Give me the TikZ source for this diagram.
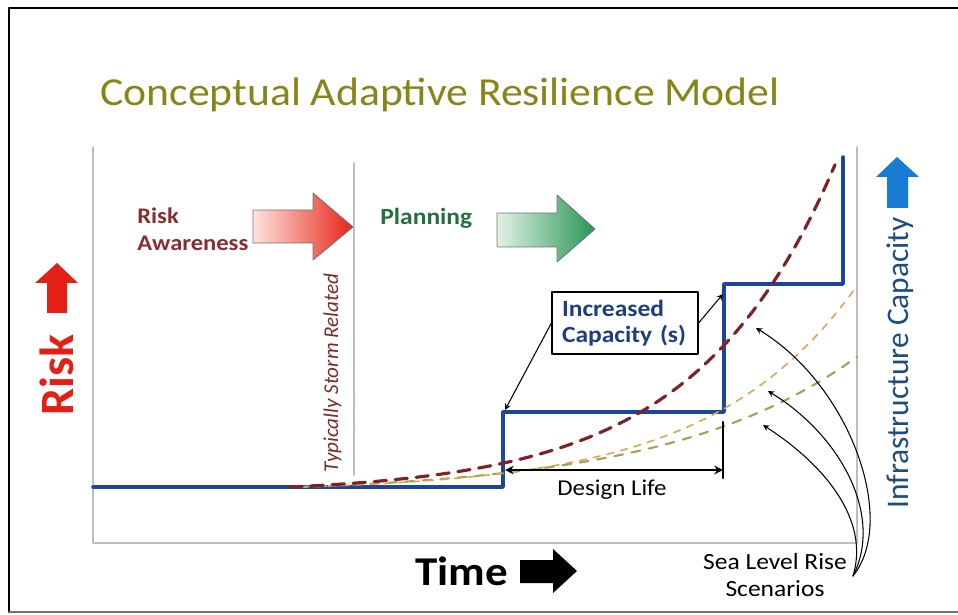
\documentclass[tikz,border=0pt]{standalone}
\usepackage{fontspec}
\setmainfont{Carlito}[FakeStretch=1.1]
\newfontfamily\narrowfont{Carlito}
\definecolor{titleolive}{RGB}{134,134,22}
\definecolor{riskred}{RGB}{226,32,22}
\definecolor{awarered}{RGB}{140,44,50}
\definecolor{stormred}{RGB}{130,40,40}
\definecolor{plangreen}{RGB}{34,112,62}
\definecolor{capblue}{RGB}{30,62,125}
\definecolor{stepblue}{RGB}{28,70,150}
\definecolor{infrablue}{RGB}{30,76,125}
\definecolor{arrowblue}{RGB}{24,124,212}
\definecolor{axisgrey}{RGB}{190,190,190}
\definecolor{curvered}{RGB}{130,32,38}
\definecolor{curveorange}{RGB}{222,164,80}
\definecolor{curvegreen}{RGB}{150,168,82}
\definecolor{redpale}{RGB}{252,228,222}
\definecolor{redfull}{RGB}{232,36,24}
\definecolor{greenpale}{RGB}{225,242,230}
\definecolor{greenfull}{RGB}{40,150,85}
\begin{document}
\begin{tikzpicture}[x=0.02cm,y=-0.02cm,line cap=round,line join=round,>=stealth,
    axisline/.style={draw=axisgrey,line width=0.8pt},
    stepline/.style={draw=stepblue,line width=2pt},
    pointer/.style={->,line width=0.6pt},
    fatarrow/.style={draw=black!55,line width=0.5pt}]
    \def\ra{6.6}  \def\rk{0.00717} % worst case
    \def\oa{4.57} \def\ok{0.00684}
    \def\ga{7.2}  \def\gk{0.0053}
    \useasboundingbox (0,0) rectangle (958,615);
    \draw[line width=1.6pt] (958,8) -- (9,8) -- (9,612);
    \draw[line width=1pt,black!55] (9,612) -- (958,612);
    \node[anchor=base west,inner sep=0,text=titleolive,font=\fontsize{22.6}{26}\selectfont] (title) at (100,106) {Conceptual Adaptive Resilience Model};
    \draw[axisline] (93,147) -- (93,543) -- (857,543) -- (857,147);
    \draw[axisline] (354,163) -- (354,475);
    \coordinate (stepA) at (503,412);
    \coordinate (stepB) at (724,284);
    \coordinate (stepC) at (843,157);
    \draw[stepline] (93,487) -- (503,487) -- (stepA) -| (stepB) -| (stepC);
    \draw[curvegreen,line width=1.2pt,dash pattern=on 5pt off 5pt,samples=80,smooth,domain=300:857] plot(\x,{487-\ga*(exp(\gk*(\x-300))-1)});
    \draw[curveorange,line width=0.9pt,dash pattern=on 4pt off 4pt,samples=80,smooth,domain=300:857] plot(\x,{487-\oa*(exp(\ok*(\x-300))-1)});
    \draw[curvered,line width=1.8pt,dash pattern=on 7pt off 5pt,samples=80,smooth,domain=290:835] plot(\x,{487-\ra*(exp(\rk*(\x-290))-1)});
    \node[anchor=north west,inner sep=0,align=left,text=awarered,font=\bfseries\fontsize{12.7}{15.4}\selectfont] (aware) at (137,207) {Risk\\Awareness};
    \shadedraw[fatarrow,left color=redpale,right color=redfull] (253,210) -- (313,210) -- (313,193) -- (353,227) -- (313,260) -- (313,243) -- (253,243) -- cycle;
    \node[anchor=base west,inner sep=0,text=plangreen,font=\bfseries\fontsize{13.2}{15}\selectfont] (plan) at (380,225) {Planning};
    \shadedraw[fatarrow,left color=greenpale,right color=greenfull] (497,213) -- (557,213) -- (557,195) -- (595,229) -- (557,262) -- (557,247) -- (497,247) -- cycle;
    \node[rotate=90,anchor=base,inner sep=0,text=stormred,font=\narrowfont\itshape\fontsize{12}{14}\selectfont] (storm) at (338,373) {Typically Storm Related};
    \node[draw,line width=0.7pt,minimum width=2.92cm,minimum height=1.24cm,inner xsep=0.2cm,text width=2.52cm,align=left,text=capblue,font=\bfseries\fontsize{13.2}{14.8}\selectfont] (capbox) at (625,323) {Increased\\Capacity (s)};
    \draw[pointer] (capbox.west) -- ([shift={(2,-2)}]stepA);
    \draw[pointer] (capbox.east) -- ([shift={(-1,10)}]stepB);
    \coordinate (dlL) at (505,470);
    \coordinate (dlR) at (723,470);
    \draw[<->,line width=1.2pt] (dlL) -- (dlR);
    \draw[line width=1.2pt] (723,422) -- (723,478);
    \node[anchor=base,inner sep=0,font=\fontsize{12.9}{15}\selectfont] (dlife) at (612,495) {Design Life};
    \node[anchor=north,inner sep=0,align=center,font=\fontsize{13.2}{15.4}\selectfont] (slr) at (775,553) {Sea Level Rise\\Scenarios};
    \coordinate (slrend) at (853,576);
    \draw[pointer] (slrend) .. controls (898,520) and (850,385) .. (756,328);
    \draw[pointer] (slrend) .. controls (884,515) and (840,435) .. (768,391);
    \draw[pointer] (slrend) .. controls (870,520) and (825,465) .. (763,425);
    \node[anchor=base west,inner sep=0,font=\bfseries\fontsize{23.3}{26}\selectfont] (time) at (415,585) {Time};
    \fill (520,560) -- (553,560) -- (553,549) -- (577,571) -- (553,593) -- (553,583) -- (520,583) -- cycle;
    \node[rotate=90,anchor=base,inner sep=0,text=riskred,font=\narrowfont\bfseries\fontsize{27.3}{30}\selectfont] (risk) at (73,375) {Risk};
    \fill[riskred] (47,313) -- (47,283) -- (35,283) -- (57,263) -- (78,283) -- (67,283) -- (67,313) -- cycle;
    \node[rotate=90,anchor=base,inner sep=0,text=infrablue,font=\narrowfont\fontsize{17.9}{20}\selectfont] (infra) at (908,363) {Infrastructure Capacity};
    \fill[arrowblue] (887,208) -- (887,177) -- (876,177) -- (897,157) -- (919,177) -- (908,177) -- (908,208) -- cycle;
\end{tikzpicture}
\end{document}
